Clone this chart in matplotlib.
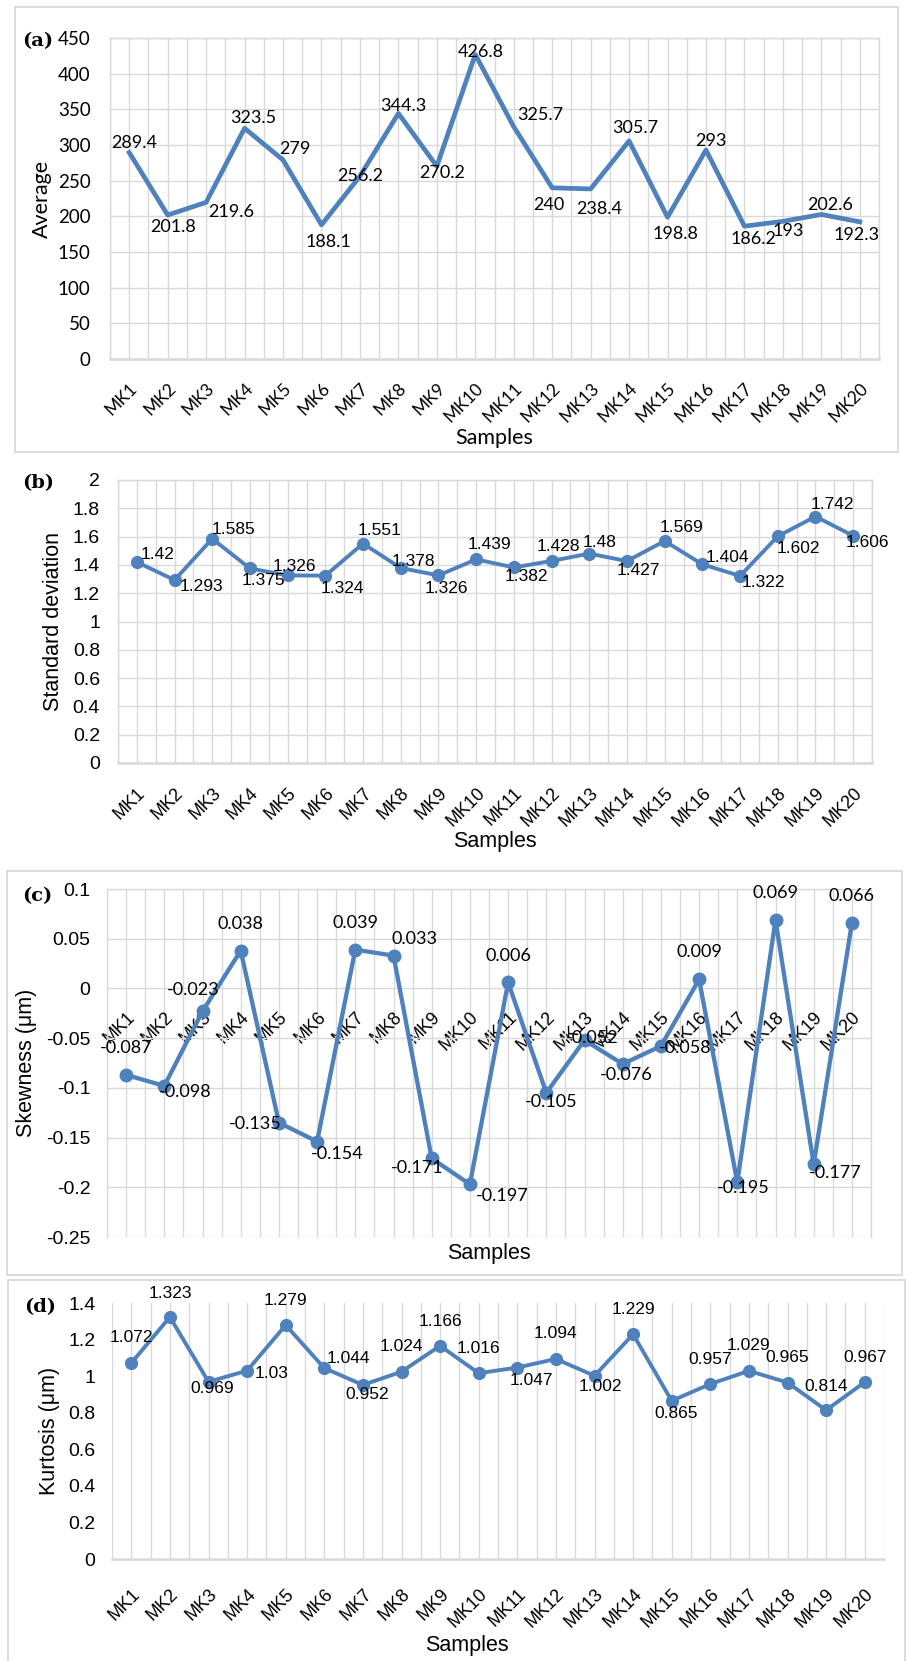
import numpy as np
import matplotlib.pyplot as plt
from matplotlib.patches import Rectangle

# ---- data ----
samples = ['MK1', 'MK2', 'MK3', 'MK4', 'MK5', 'MK6', 'MK7', 'MK8', 'MK9', 'MK10',
           'MK11', 'MK12', 'MK13', 'MK14', 'MK15', 'MK16', 'MK17', 'MK18', 'MK19', 'MK20']
average = [289.4, 201.8, 219.6, 323.5, 279, 188.1, 256.2, 344.3, 270.2, 426.8,
           325.7, 240, 238.4, 305.7, 198.8, 293, 186.2, 193, 202.6, 192.3]
std_dev = [1.42, 1.293, 1.585, 1.375, 1.326, 1.324, 1.551, 1.378, 1.326, 1.439,
           1.382, 1.428, 1.48, 1.427, 1.569, 1.404, 1.322, 1.602, 1.742, 1.606]
skewness = [-0.087, -0.098, -0.023, 0.038, -0.135, -0.154, 0.039, 0.033, -0.171, -0.197,
            0.006, -0.105, -0.052, -0.076, -0.058, 0.009, -0.195, 0.069, -0.177, 0.066]
kurtosis = [1.072, 1.323, 0.969, 1.03, 1.279, 1.044, 0.952, 1.024, 1.166, 1.016,
            1.047, 1.094, 1.002, 1.229, 0.865, 0.957, 1.029, 0.965, 0.814, 0.967]

# data label offsets in pixels (dx right, dy down)
off_a = [(5, -10), (5, 12), (25, 10), (9, -10), (12, -11), (7, 17), (0, 0), (5, -7), (5, 7), (5, -3),
         (27, -12), (-3, 17), (9, 20), (6, -13), (8, 17), (5, -9), (9, 13), (5, 10), (9, -9), (-3, 13)]
off_b = [(21, -8), (27, 6), (21, -9), (13, 12), (7, -9), (17, 13), (17, -13), (13, -7), (8, 13), (13, -15),
         (13, 9), (7, -14), (10, -11), (11, 9), (17, -13), (25, -7), (23, 7), (21, 12), (17, -12), (14, 7)]
off_c = [(0, -27), (21, 6), (-9, -21), (0, -27), (-24, 1), (20, 12), (0, -27), (21, -17), (-15, 10), (32, 12),
         (0, -26), (5, 9), (8, -2), (4, 11), (24, 2), (0, -27), (6, 6), (0, -27), (22, 9), (0, -27)]
off_d = [(0, -25), (0, -24), (4, 7), (24, 3), (0, -25), (24, -10), (4, 10), (0, -25), (0, -24), (0, -25),
         (14, 13), (0, -25), (6, 11), (0, -25), (4, 13), (0, -25), (0, -25), (0, -25), (0, -24), (0, -25)]

W, H = 907, 1661
BLUE = '#4F81BD'
GRID = '#D9D9D9'
CAL = ['Lato', 'DejaVu Sans']
ARI = ['Liberation Sans', 'DejaVu Sans']

fig = plt.figure(figsize=(W / 100, H / 100), dpi=100)


def add_ax(l, t, r, b):
    return fig.add_axes([l / W, (H - b) / H, (r - l) / W, (b - t) / H])


def frame(x0, y0, x1, y1):
    fig.add_artist(Rectangle((x0 / W, 1 - y1 / H), (x1 - x0) / W, (y1 - y0) / H,
                             transform=fig.transFigure, fill=False, ec=GRID, lw=1.3))


def fmt(t):
    return f'{(t if abs(t) > 1e-9 else 0):g}'


def setup(ax, values, offsets, ylim, yticks, ylabel, tick_font, lab_font, title_font,
          ytick_size, xtick_size, lab_size, lw, marker, ms, ypad, xpad, hgrid=True, zero_axis=False):
    x = np.arange(len(samples))
    if zero_axis:
        ax.spines['bottom'].set_position(('data', 0))
        ax.spines['bottom'].set_visible(False)
    ax.plot(x, values, color=BLUE, lw=lw, marker=marker, ms=ms, zorder=3)
    for xi, v, (dx, dy) in zip(x, values, offsets):
        ax.annotate(fmt(v), (xi, v), xytext=(dx, -dy), textcoords='offset pixels',
                    ha='center', va='center', fontsize=lab_size, family=lab_font, zorder=4)
    ax.set_xlim(-0.5, len(samples) - 0.5)
    ax.set_ylim(*ylim)
    ax.set_yticks(yticks)
    ax.set_yticklabels([fmt(t) for t in yticks], family=tick_font, fontsize=ytick_size)
    ax.set_xticks(x)
    ax.set_xticklabels(samples, rotation=45, ha='right', va='top', rotation_mode='anchor',
                       family=tick_font, fontsize=xtick_size)
    ax.set_xticks(np.arange(-0.5, len(samples), 1), minor=True)
    ax.tick_params(axis='both', which='both', length=0)
    ax.tick_params(axis='y', pad=ypad)
    ax.tick_params(axis='x', pad=xpad)
    ax.grid(True, axis='x', which='both', color=GRID, lw=1)
    if hgrid:
        ax.grid(True, axis='y', which='major', color=GRID, lw=1)
    ax.set_axisbelow(True)
    for s in ax.spines.values():
        s.set_color(GRID)
        s.set_linewidth(1)
    ax.spines['bottom'].set_linewidth(1.8)
    ax.set_ylabel(ylabel, family=title_font, fontsize=15.5)
    ax.yaxis.label.set_va('center')
    ax.set_xlabel('Samples', family=title_font, fontsize=15.5)
    ax.xaxis.label.set_va('center')


# (a)
frame(15, 7, 898, 452)
ax_a = add_ax(110, 38, 879, 359)
setup(ax_a, average, off_a, (0, 450), np.arange(0, 451, 50), 'Average', CAL, CAL, CAL,
      13.5, 12.5, 13, 3.4, None, 0, 14, 15)
ax_a.yaxis.set_label_coords((42 - 110) / 769, 0.5)
ax_a.xaxis.set_label_coords((494 - 110) / 769, (359 - 438) / 321)
fig.text(22 / W, 1 - 41 / H, '(a)', family='DejaVu Serif', weight='bold', fontsize=14,
         ha='left', va='center')

# (b)
ax_b = add_ax(118, 480, 872, 763)
setup(ax_b, std_dev, off_b, (0, 2), np.round(np.arange(0, 2.01, 0.2), 1), 'Standard deviation',
      ARI, ARI, ARI, 14, 13, 12.5, 2.8, 'o', 8.5, 13, 15.5)
ax_b.yaxis.set_label_coords((53 - 118) / 754, 0.5)
ax_b.xaxis.set_label_coords((495 - 118) / 754, (763 - 842) / 283)
fig.text(22 / W, 1 - 483 / H, '(b)', family='DejaVu Serif', weight='bold', fontsize=14,
         ha='left', va='center')

# (c)
frame(7, 871, 902, 1275)
ax_c = add_ax(107, 889, 871, 1237)
setup(ax_c, skewness, off_c, (-0.25, 0.1), np.round(np.arange(-0.25, 0.101, 0.05), 2),
      'Skewness (μm)', ARI, CAL, ARI, 14, 13, 13, 3.1, 'o', 9, 12, 14.5, zero_axis=True)
ax_c.yaxis.set_label_coords((27 - 107) / 764, 0.5)
ax_c.xaxis.set_label_coords((489 - 107) / 764, (1237 - 1253) / 348)
fig.text(22 / W, 1 - 896 / H, '(c)', family='DejaVu Serif', weight='bold', fontsize=14,
         ha='left', va='center')

# (d)
frame(8, 1280, 905, 1663)
ax_d = add_ax(112, 1303, 884, 1559)
setup(ax_d, kurtosis, off_d, (0, 1.4), np.round(np.arange(0, 1.41, 0.2), 1), 'Kurtosis (μm)',
      ARI, ARI, ARI, 14, 13, 12.5, 2.8, 'o', 8.5, 12, 19, hgrid=False)
ax_d.spines['top'].set_visible(False)
ax_d.spines['left'].set_visible(False)
ax_d.spines['right'].set_visible(False)
ax_d.yaxis.set_label_coords((49 - 112) / 772, 0.5)
ax_d.xaxis.set_label_coords((467 - 112) / 772, (1559 - 1645) / 256)
fig.text(24 / W, 1 - 1307 / H, '(d)', family='DejaVu Serif', weight='bold', fontsize=14,
         ha='left', va='center')

fig.savefig('out.png', dpi=100)
